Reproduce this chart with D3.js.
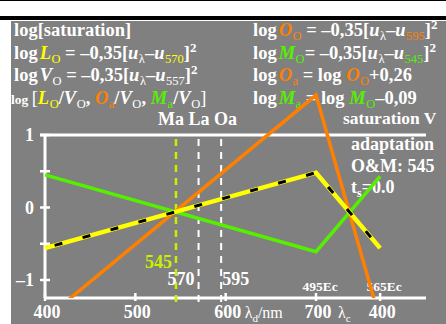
<!DOCTYPE html>
<html>
<head>
<meta charset="utf-8">
<script src="https://cdn.jsdelivr.net/npm/d3@7"></script>
<style>
body { margin: 0; background: #fff; }
svg { display: block; }
</style>
</head>
<body>
<script>
// x stops: 400..700 is lambda_d, 771 is where 565Ec sits on the lambda_c part
const xStops = [400, 700, 771];
const lumSat = [-0.56, 0.48, -0.56];     // log L_o/V_o (yellow/black)
const greenSat = [0.45, -0.61, 0.43];    // log M_a/V_o
const orangeSat = [-1.54, 1.55, -1.56];  // log O_a/V_o
const markWaves = [545, 570, 595];
const markLabels = ["545", "570", "595"];
const xTickPos = [400, 500, 600, 700, 771];
const xTickLabels = ["400", "500", "600", "700", "400"];
const ecPos = [700, 771];
const ecLabels = ["495Ec", "565Ec"];
const yTicks = [-1, -0.5, 0, 0.5, 1];
const yLabelTicks = [-1, 0, 1];
const yLabels = ["–1", "0", "1"];

const YEL = "#ffff00", ORA = "#ff8000", GRN = "#55f000", YG = "#c8f000";

function main(){
    const width = 446;
    const height = 324;

    const svg = d3.select("body").append("svg")
        .attr("width", width)
        .attr("height", height)
        .attr("font-family", "'Liberation Serif', 'Times New Roman', serif")
        .attr("font-weight", "bold");

    svg.append("rect").attr("width", width).attr("height", height).attr("fill", "#fff");
    svg.append("rect").attr("x", 0).attr("y", 0).attr("width", width).attr("height", 1).attr("fill", "#000");
    svg.append("rect").attr("x", 0).attr("y", 16).attr("width", width).attr("height", 4).attr("fill", "#000");
    svg.append("rect").attr("x", 11).attr("y", 21).attr("width", width - 11).attr("height", height - 21).attr("fill", "#808080");

    // rich text with sub/superscripts
    function rich(x, y, segs, size){
        const t = svg.append("text").attr("x", x).attr("y", y)
            .attr("font-size", size).attr("fill", "#fff");
        let cur = 0;
        segs.forEach(s => {
            const o = typeof s === "string" ? {t: s} : s;
            const off = o.sub ? 4 : (o.sup ? -7 : 0);
            const ts = t.append("tspan").attr("dy", off - cur).text(o.t);
            cur = off;
            if (o.dx) ts.attr("dx", o.dx);
            if (o.c) ts.attr("fill", o.c);
            if (o.i) ts.attr("font-style", "italic");
            if (o.sub || o.sup) ts.attr("font-size", o.fs || 11);
            else if (o.fs) ts.attr("font-size", o.fs);
            if (o.n) ts.attr("font-weight", "normal");
        });
        return t;
    }

    const FS = 18.5;
    const sub = (t, c) => ({t: t, sub: true, c: c, n: true, fs: 12.5, dx: 0.5});
    const it = (t, c) => ({t: t, i: true, c: c});
    const itg = (t, c) => ({t: t, i: true, c: c, dx: 2});   // italic right after "log"

    rich(14, 36, ["log[saturation]"], FS);
    rich(14, 58.5, ["log", itg("L", YEL), sub("O", YEL), "  = –0,35[", it("u"), sub("λ"), "–", it("u"), sub("570", YEL), "]", {t: "2", sup: true, fs: 13}], FS);
    rich(14, 81, ["log", itg("V"), sub("O"), " = –0,35[", it("u"), sub("λ"), "–", it("u"), sub("557"), "]", {t: "2", sup: true, fs: 13}], FS);
    rich(11, 103.5, [{t: "log ", fs: 13.5}, {t: "[", n: true}, it("L", YEL), sub("O", YEL), "/", it("V"), sub("O"), ", ", it("O", ORA), sub("a", ORA), "/", it("V"), sub("O"), ", ", it("M", GRN), sub("a", GRN), "/", it("V"), sub("O"), {t: "]", n: true}], FS);

    rich(253, 36, ["log", itg("O", ORA), sub("O", ORA), " = –0,35[", it("u"), sub("λ"), "–", it("u"), sub("595", ORA), "]", {t: "2", sup: true, fs: 13}], FS);
    rich(253, 58.5, ["log", itg("M", GRN), sub("O", GRN), "= –0,35[", it("u"), sub("λ"), "–", it("u"), sub("545", GRN), "]", {t: "2", sup: true, fs: 13}], FS);
    rich(253, 81, ["log", itg("O", ORA), sub("a", ORA), " = log ", it("O", ORA), sub("O", ORA), "+0,26"], FS);
    rich(253, 103.5, ["log", itg("M", GRN), sub("a", GRN), " = log ", it("M", GRN), sub("O", GRN), "–0,09"], FS);

    rich(158, 125, ["Ma La Oa"], 18);
    rich(343, 124, ["saturation V"], 17.5);
    rich(351, 150, ["adaptation"], 18);
    rich(351, 172, ["O&M: 545"], 18);
    rich(351, 193, ["t", {t: "s", sub: true, fs: 12}, "=0.0"], 18);

    const xScale = d3.scaleLinear().domain([400, 700]).range([45, 316]);
    const yScale = d3.scaleLinear().domain([-1, 1]).range([280, 135]);
    const bottomY = 298;
    const rightX = 426;

    // frame + axes
    svg.append("line").attr("x1", 40).attr("x2", rightX).attr("y1", yScale(1)).attr("y2", yScale(1))
        .attr("stroke", "#fff").attr("stroke-width", 3);
    svg.append("line").attr("x1", xScale(400)).attr("x2", rightX).attr("y1", bottomY).attr("y2", bottomY)
        .attr("stroke", "#fff").attr("stroke-width", 3);
    svg.append("line").attr("x1", xScale(400)).attr("x2", xScale(400)).attr("y1", yScale(1)).attr("y2", bottomY)
        .attr("stroke", "#fff").attr("stroke-width", 3);

    svg.selectAll(".ytick").data(yTicks).enter().append("line")
        .attr("x1", xScale(400) - 5).attr("x2", xScale(400) + 5)
        .attr("y1", d => yScale(d)).attr("y2", d => yScale(d))
        .attr("stroke", "#fff").attr("stroke-width", 2.5);
    svg.selectAll(".ylab").data(yLabelTicks).enter().append("text")
        .attr("x", 34).attr("y", d => yScale(d) + 6)
        .attr("text-anchor", "end").attr("font-size", 18).attr("fill", "#fff")
        .text((d, i) => yLabels[i]);

    svg.selectAll(".xtick").data(xTickPos).enter().append("line")
        .attr("x1", d => xScale(d)).attr("x2", d => xScale(d))
        .attr("y1", bottomY - 5).attr("y2", bottomY + 3)
        .attr("stroke", "#fff").attr("stroke-width", 2.5);
    svg.selectAll(".xlab").data(xTickPos).enter().append("text")
        .attr("x", d => xScale(d) + 2).attr("y", 318)
        .attr("text-anchor", "middle").attr("font-size", 18).attr("fill", "#fff")
        .text((d, i) => xTickLabels[i]);
    rich(xScale(600) + 19, 318, [{t: "λ", n: true}, {t: "d", sub: true, n: true, fs: 11}, {t: "/nm", n: true}], 16);
    rich(xScale(700) + 22, 318, [{t: "λ", n: true}, {t: "c", sub: true, n: true, fs: 11}], 16);

    svg.selectAll(".ec").data(ecPos).enter().append("text")
        .attr("x", d => xScale(d) + 4).attr("y", 291)
        .attr("text-anchor", "middle").attr("font-size", 13.5).attr("fill", "#fff")
        .text((d, i) => ecLabels[i]);

    // marker lines
    svg.selectAll(".mark").data(markWaves).enter().append("line")
        .attr("x1", d => xScale(d)).attr("x2", d => xScale(d))
        .attr("y1", yScale(1) + 4).attr("y2", bottomY + 4)
        .attr("stroke", (d, i) => i === 0 ? YG : "#fff")
        .attr("stroke-width", (d, i) => i === 0 ? 2.5 : 2)
        .attr("stroke-dasharray", "7,6");
    svg.append("text").attr("x", xScale(545) - 4).attr("y", 268).attr("text-anchor", "end")
        .attr("font-size", 18).attr("fill", YG).text(markLabels[0]);
    svg.append("text").attr("x", xScale(570) - 4).attr("y", 285).attr("text-anchor", "end")
        .attr("font-size", 18).attr("fill", "#fff").text(markLabels[1]);
    svg.append("text").attr("x", xScale(595) + 1).attr("y", 285)
        .attr("font-size", 18).attr("fill", "#fff").text(markLabels[2]);

    // curves
    svg.append("clipPath").attr("id", "clip").append("rect")
        .attr("x", 11).attr("y", 21).attr("width", width - 11).attr("height", bottomY - 21);

    const line = d3.line()
        .x((d, i) => xScale(xStops[i]))
        .y(d => yScale(d));

    svg.append("path").attr("d", line(orangeSat)).attr("clip-path", "url(#clip)")
        .attr("fill", "none").attr("stroke", ORA).attr("stroke-width", 3.5);
    svg.append("path").attr("d", line(greenSat))
        .attr("fill", "none").attr("stroke", GRN).attr("stroke-width", 3.5);
    svg.append("path").attr("d", line(lumSat))
        .attr("fill", "none").attr("stroke", YEL).attr("stroke-width", 4.5);
    svg.append("path").attr("d", line(lumSat))
        .attr("fill", "none").attr("stroke", "#000").attr("stroke-width", 3)
        .attr("stroke-dasharray", "8,21").attr("stroke-dashoffset", -10);
}
main();
</script>
</body>
</html>
